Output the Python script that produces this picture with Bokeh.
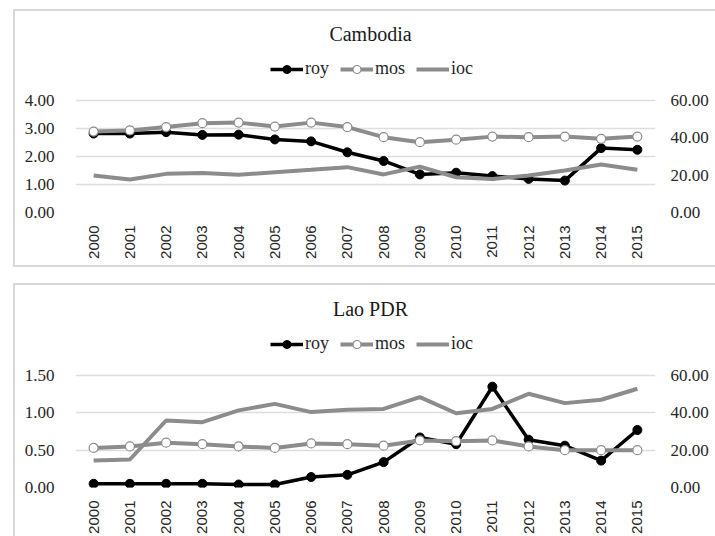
import numpy as np
from bokeh.plotting import figure
from bokeh.models import (FactorRange, Range1d, LinearAxis, FixedTicker,
                          PrintfTickFormatter, Legend, LegendItem, Label)
from bokeh.layouts import column
from bokeh.embed import file_html
from bokeh.resources import INLINE

years = ["2000", "2001", "2002", "2003", "2004", "2005", "2006", "2007",
         "2008", "2009", "2010", "2011", "2012", "2013", "2014", "2015"]

# Cambodia (roy, mos on left axis; ioc on right axis)
camb_roy = [2.82, 2.82, 2.87, 2.77, 2.78, 2.61, 2.54, 2.15, 1.84, 1.36, 1.42, 1.30, 1.20, 1.14, 2.30, 2.24]
camb_mos = [2.89, 2.93, 3.05, 3.19, 3.21, 3.07, 3.21, 3.05, 2.69, 2.51, 2.60, 2.71, 2.69, 2.71, 2.63, 2.71]
camb_ioc = [19.8, 17.7, 20.7, 21.1, 20.2, 21.6, 22.9, 24.3, 20.4, 24.6, 18.9, 18.0, 19.8, 22.5, 25.7, 22.9]
camb_left_ticks = [0, 1, 2, 3, 4]

# Lao PDR
lao_roy = [0.05, 0.05, 0.05, 0.05, 0.04, 0.04, 0.14, 0.17, 0.34, 0.67, 0.58, 1.35, 0.64, 0.56, 0.36, 0.77]
lao_mos = [0.53, 0.55, 0.60, 0.58, 0.55, 0.53, 0.59, 0.58, 0.56, 0.63, 0.62, 0.63, 0.55, 0.50, 0.50, 0.50]
lao_ioc = [14.5, 15.0, 35.9, 35.0, 41.3, 44.8, 40.4, 41.6, 42.1, 48.4, 39.8, 42.1, 50.2, 45.2, 47.0, 52.9]
lao_left_ticks = [0, 0.5, 1.0, 1.5]

right_ticks = [0, 20, 40, 60]

GRAY = "#8c8c8c"
TXT = "#262626"
SERIF = "Liberation Serif"
SANS = "Liberation Sans"

GRID_H = 112      # pixel height between lowest and highest gridline
FRAME_TOP_PAD = 3


def make_panel(title, roy, mos, ioc, left_ticks, height, bottom):
    frame_h = height - FRAME_TOP_PAD - bottom
    scale = frame_h / GRID_H
    p = figure(x_range=FactorRange(*years),
               y_range=Range1d(0, left_ticks[-1] * scale),
               width=700, height=height, output_backend="svg", toolbar_location=None,
               min_border_left=60, min_border_right=60, min_border_top=FRAME_TOP_PAD,
               min_border_bottom=bottom, outline_line_color=None)
    p.extra_y_ranges = {"right": Range1d(0, right_ticks[-1] * scale)}

    r_roy_l = p.line(years, roy, color="black", line_width=3.5)
    r_roy_p = p.scatter(years, roy, size=9, color="black")
    r_mos_l = p.line(years, mos, color=GRAY, line_width=4)
    r_mos_p = p.scatter(years, mos, size=9, fill_color="white", line_color=GRAY, line_width=1.2)
    r_ioc = p.line(years, ioc, y_range_name="right", color=GRAY, line_width=4)

    ax_r = LinearAxis(y_range_name="right")
    p.add_layout(ax_r, "right")

    for ax in (p.yaxis[0], ax_r):
        ax.formatter = PrintfTickFormatter(format="%.2f")
        ax.axis_line_color = None
        ax.major_tick_line_color = None
        ax.minor_tick_line_color = None
        ax.major_tick_out = 0
        ax.major_tick_in = 0
        ax.major_label_text_font = SERIF
        ax.major_label_text_font_size = "17px"
        ax.major_label_text_color = TXT
    p.yaxis[0].ticker = FixedTicker(ticks=left_ticks)
    p.yaxis[0].major_label_standoff = 21
    ax_r.ticker = FixedTicker(ticks=right_ticks)
    ax_r.major_label_standoff = 15

    xa = p.xaxis[0]
    xa.major_label_orientation = np.pi / 2
    xa.axis_line_color = None
    xa.major_tick_line_color = None
    xa.major_tick_out = 0
    xa.major_tick_in = 0
    xa.major_label_text_font = SANS
    xa.major_label_text_font_size = "15px"
    xa.major_label_text_color = TXT
    xa.major_label_standoff = 13

    p.xgrid.grid_line_color = None
    p.ygrid.grid_line_color = "#dedede"
    p.ygrid.grid_line_width = 1.5
    p.ygrid.ticker = FixedTicker(ticks=left_ticks)

    p.add_layout(Label(x=295, y=179, x_units="screen", y_units="screen", text=title,
                       text_align="center", text_baseline="middle", text_font=SERIF,
                       text_font_size="20px", text_color="#1a1a1a"))

    legend = Legend(items=[LegendItem(label="roy", renderers=[r_roy_l, r_roy_p]),
                           LegendItem(label="mos", renderers=[r_mos_l, r_mos_p]),
                           LegendItem(label="ioc", renderers=[r_ioc])],
                    orientation="horizontal", location=(195, 133),
                    glyph_width=33, glyph_height=20, label_height=20, label_standoff=2,
                    spacing=11, padding=0, margin=0, border_line_alpha=0,
                    background_fill_alpha=0, label_text_font=SERIF,
                    label_text_font_size="18px", label_text_color=TXT,
                    label_text_baseline="middle")
    p.add_layout(legend, "center")
    p.styles = {"outline": "2px solid #d9d9d9"}
    return p


p1 = make_panel("Cambodia", camb_roy, camb_mos, camb_ioc, camb_left_ticks, 254, 53)
p1.margin = (11, 0, 0, 15)
p2 = make_panel("Lao PDR", lao_roy, lao_mos, lao_ioc, lao_left_ticks, 251, 49)
p2.margin = (20, 0, 0, 15)

layout = column(p1, p2)
open("out.html", "w").write(file_html(layout, INLINE))
